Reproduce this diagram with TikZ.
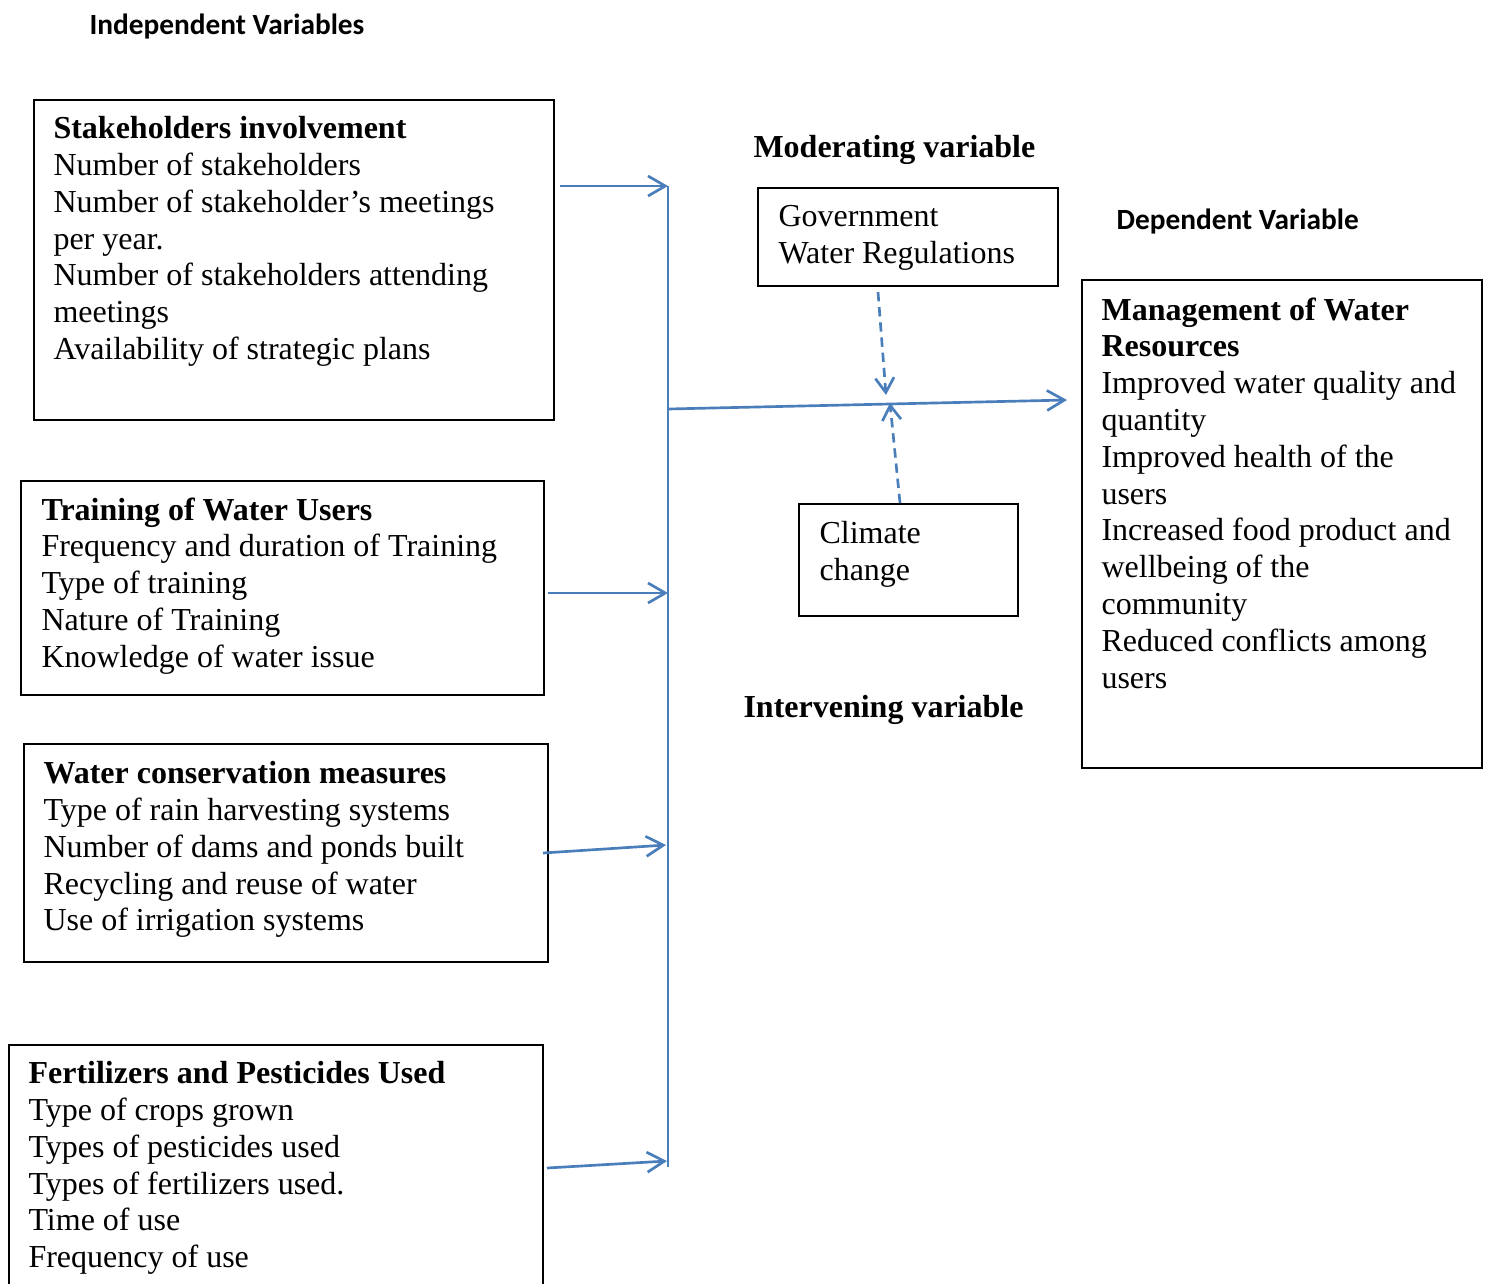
\documentclass[tikz,border=0pt]{standalone}
\usepackage{fontspec}
\setmainfont{Liberation Serif}
\newfontfamily\headfont{Carlito}
\usetikzlibrary{arrows.meta, positioning, calc}
\definecolor{linkblue}{RGB}{74,126,187}

\begin{document}
\begin{tikzpicture}[x=0.375pt, y=-0.375pt,
  every node/.style={inner sep=0pt},
  box/.style={draw, line width=0.7pt, anchor=north west},
  body/.style={font=\fontsize{12}{13.8}\selectfont, align=left, anchor=north west},
  vartitle/.style={font=\fontsize{12}{13.8}\selectfont\bfseries, anchor=west},
  sidetitle/.style={font=\headfont\fontsize{11}{13}\selectfont\bfseries, anchor=west},
  link/.style={linkblue, line width=1pt, -{Straight Barb[length=6.5pt, width=7.5pt]}},
  modlink/.style={linkblue, line width=1pt, dash pattern=on 3.5pt off 2.2pt,
    -{Straight Barb[length=5.5pt, width=7pt]}}]
  \useasboundingbox (0,0) rectangle (1489,1283);
  \clip (0,0) rectangle (1489,1283);

  % headings
  \node[sidetitle] (indep) at (89,27) {Independent Variables};
  \node[vartitle] (modvar) at (753,150) {Moderating variable};
  \node[sidetitle] (depvar) at (1116,222) {Dependent Variable};
  \node[vartitle] (intvar) at (743,710) {Intervening variable};

  % independent variables
  \node[box, minimum width=195pt, minimum height=120pt] (stk) at (33,99) {};
  \node[body] (stktxt) at (53,116) {\textbf{Stakeholders involvement}\\
    Number of stakeholders\\
    Number of stakeholder’s meetings\\
    per year.\\
    Number of stakeholders attending\\
    meetings\\
    Availability of strategic plans};

  \node[box, minimum width=196.1pt, minimum height=80.25pt] (trn) at (20,480) {};
  \node[body] (trntxt) at (41,497) {\textbf{Training of Water Users}\\
    Frequency and duration of Training\\
    Type of training\\
    Nature of Training\\
    Knowledge of water issue};

  \node[box, minimum width=196.5pt, minimum height=81.75pt] (wcm) at (23,743) {};
  \node[body] (wcmtxt) at (43,761) {\textbf{Water conservation measures}\\
    Type of rain harvesting systems\\
    Number of dams and ponds built\\
    Recycling and reuse of water\\
    Use of irrigation systems};

  \node[box, minimum width=200.25pt, minimum height=100pt] (fert) at (8,1044) {};
  \node[body] (ferttxt) at (28,1061) {\textbf{Fertilizers and Pesticides Used}\\
    Type of crops grown\\
    Types of pesticides used\\
    Types of fertilizers used.\\
    Time of use\\
    Frequency of use};

  % moderating and intervening variables
  \node[box, minimum width=112.5pt, minimum height=36.75pt] (gov) at (757,187) {};
  \node[body] (govtxt) at (778,205) {Government\\Water Regulations};

  \node[box, minimum width=82.1pt, minimum height=42pt] (clim) at (798,503) {};
  \node[body] (climtxt) at (819,521) {Climate\\change};

  % dependent variable
  \node[box, minimum width=150pt, minimum height=183pt] (mwr) at (1081,279) {};
  \node[body] (mwrtxt) at (1101,297) {\textbf{Management of Water}\\
    \textbf{Resources}\\
    Improved water quality and\\
    quantity\\
    Improved health of the\\
    users\\
    Increased food product and\\
    wellbeing of the\\
    community\\
    Reduced conflicts among\\
    users};

  % connectors
  \coordinate (bustop) at (668,186);
  \coordinate (busbot) at (668,1167);
  \coordinate (busmid) at (668,409);
  \coordinate (cross) at (888,404);
  \coordinate (mwrin) at (1067,400);
  \draw[linkblue, line width=1pt] (bustop) -- (busbot);
  \draw[link] (stk.east |- bustop) ++(5,0) -- (bustop);
  \draw[link] (548,593) -- (668,593);
  \draw[link] (543,853) -- (666,845);
  \draw[link] (547,1168) -- (667,1161);
  \draw[link] (busmid) -- (mwrin);
  \draw[modlink] (878,292) -- ($(cross)+(-2,-9)$);
  \draw[modlink] (clim.north -| 900,0) -- ($(cross)+(2,-1)$);
\end{tikzpicture}
\end{document}
